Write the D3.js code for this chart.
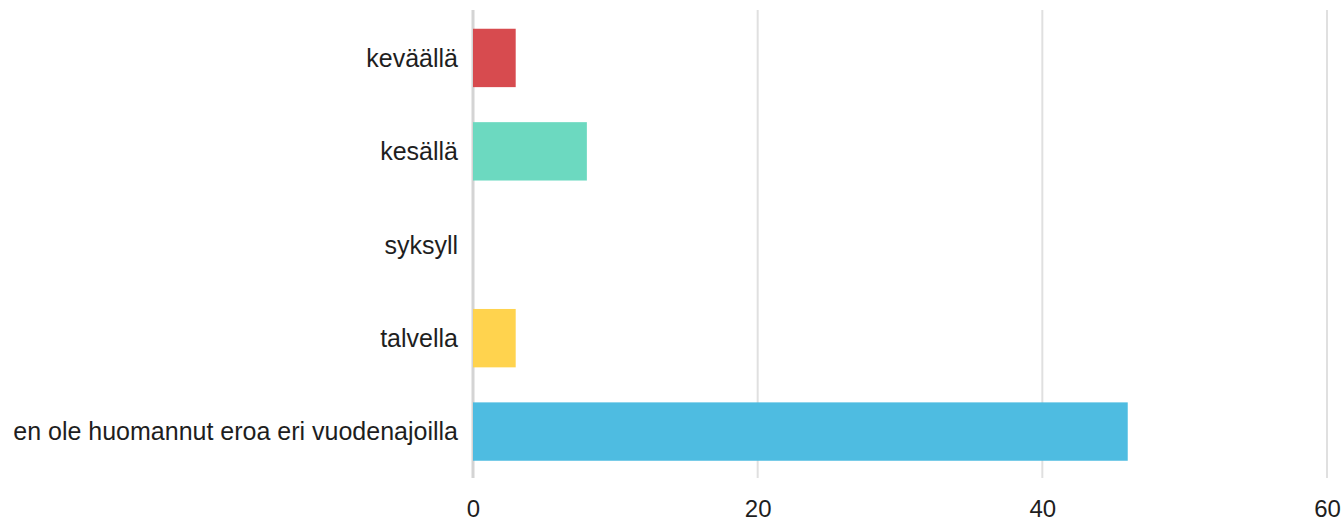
<!DOCTYPE html>
<html><head><meta charset="utf-8">
<script src="https://cdn.jsdelivr.net/npm/d3@7"></script>
<style>html,body{margin:0;padding:0;background:#fff;}svg{display:block;}</style>
</head><body>
<svg id="c" width="1342" height="522"></svg>
<script>
const categories = ["keväällä", "kesällä", "syksyll", "talvella", "en ole huomannut eroa eri vuodenajoilla"];
const values = [3, 8, 0, 3, 46];
const colors = ["#d6474b", "#69d8bf", "#888888", "#ffd24a", "#4abbe0"];
const xTicks = [0, 20, 40, 60];

const svg = d3.select("#c");
const x = d3.scaleLinear().domain([0, 60]).range([473, 1327]);
const y = d3.scaleBand().domain(categories).range([11, 478.5]).paddingInner(0.375).paddingOuter(0.19);

// gridlines
svg.append("g").selectAll("line").data(xTicks).join("line")
  .attr("x1", d => x(d)).attr("x2", d => x(d))
  .attr("y1", 10).attr("y2", 478)
  .attr("stroke", d => d === 0 ? "#d4d4d4" : "#e0e0e0")
  .attr("stroke-width", d => d === 0 ? 3 : 2);

// bars
svg.append("g").selectAll("rect").data(values).join("rect")
  .attr("x", x(0))
  .attr("y", (d, i) => y(categories[i]))
  .attr("width", d => x(d) - x(0))
  .attr("height", y.bandwidth())
  .attr("fill", (d, i) => colors[i])
  .attr("fill-opacity", 0.98);

// category labels
svg.append("g").selectAll("text").data(categories).join("text")
  .attr("x", x(0) - 15)
  .attr("y", d => y(d) + y.bandwidth() / 2)
  .attr("dy", "0.35em")
  .attr("text-anchor", "end")
  .attr("font-family", "'Liberation Sans', Arial, sans-serif")
  .attr("font-size", 25)
  .attr("fill", "#1e1e1e")
  .text(d => d);

// x axis
const axis = d3.axisBottom(x).tickValues(xTicks).tickSize(0).tickPadding(0);
const ag = svg.append("g").attr("transform", "translate(0,508)").call(axis);
ag.select(".domain").remove();
ag.selectAll("text")
  .attr("dy", "0.36em")
  .attr("y", 0)
  .attr("font-family", "'Liberation Sans', Arial, sans-serif")
  .attr("font-size", 24)
  .attr("fill", "#1e1e1e");
</script>
</body></html>
